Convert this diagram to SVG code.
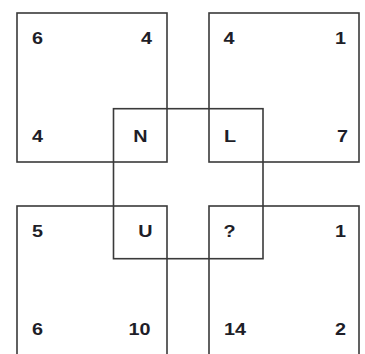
<svg xmlns="http://www.w3.org/2000/svg" width="365" height="354" viewBox="0 0 365 354">
<style>
rect.b{fill:none;stroke:#3a3a3a;stroke-width:1.6}
text{font-family:"Liberation Sans",Arial,sans-serif;font-weight:bold;font-size:16.5px;fill:#1e1e28}
.r{text-anchor:end}
</style>
<rect width="365" height="354" fill="#fff"/>
<g id="tl">
<rect class="b" x="17" y="13" width="150" height="149"/>
<text transform="translate(32,43.5) scale(1.2,1)">6</text><text class="r" transform="translate(152,43.5) scale(1.2,1)">4</text>
<text transform="translate(32,141.5) scale(1.2,1)">4</text><text class="r" transform="translate(147.5,141.5) scale(1.2,1)">N</text>
</g>
<g id="tr">
<rect class="b" x="209" y="13" width="150" height="149"/>
<text transform="translate(223.5,43.5) scale(1.2,1)">4</text><text class="r" transform="translate(346,43.5) scale(1.2,1)">1</text>
<text transform="translate(224,141.5) scale(1.2,1)">L</text><text class="r" transform="translate(348,141.5) scale(1.2,1)">7</text>
</g>
<g id="bl">
<rect class="b" x="17" y="206" width="150" height="152"/>
<text transform="translate(32,236.5) scale(1.2,1)">5</text><text class="r" transform="translate(152.5,236.5) scale(1.2,1)">U</text>
<text transform="translate(32,334.5) scale(1.2,1)">6</text><text class="r" transform="translate(150.5,334.5) scale(1.2,1)">10</text>
</g>
<g id="br">
<rect class="b" x="209" y="206" width="150" height="152"/>
<text transform="translate(223.5,236.5) scale(1.2,1)">?</text><text class="r" transform="translate(346,236.5) scale(1.2,1)">1</text>
<text transform="translate(224,334.5) scale(1.2,1)">14</text><text class="r" transform="translate(346,334.5) scale(1.2,1)">2</text>
</g>
<g id="center">
<rect class="b" x="113.5" y="108.7" width="149.5" height="150"/>
</g>
</svg>
